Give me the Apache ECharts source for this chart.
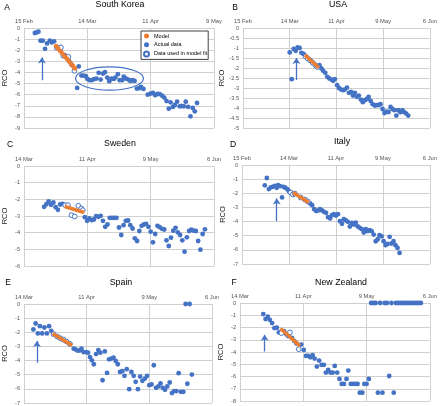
<!DOCTYPE html>
<html><head><meta charset="utf-8">
<script src="https://cdn.jsdelivr.net/npm/echarts/dist/echarts.min.js"></script>
<style>html,body{margin:0;padding:0;background:#fff}#c{width:440px;height:406px}</style>
</head><body><div id="c"></div>
<script>
// ---------- tick labels ----------
const ticksFebToMay = ['15 Feb', '14 Mar', '11 Apr', '9 May'];
const ticksFebToJun = ['15 Feb', '14 Mar', '11 Apr', '9 May', '6 Jun'];
const ticksMarToJun = ['14 Mar', '11 Apr', '9 May', '6 Jun'];

// ---------- A: South Korea (day 0 = 15 Feb) ----------
const koreaActual = [[4.8,-0.45],[5.6,-0.4],[6.4,-0.33],[7.3,-1.14],[8.3,-1.14],[9.3,-1.87],[10.2,-1.39],[11.4,-1.14],[12.3,-1.3],[13.3,-1.2],
 [15,-1.8],[16,-2.0],[18,-2.45],[19,-2.7],[20,-3.0],[21,-3.3],[23.5,-5.39],[24.2,-3.46],
 [25.4,-4.28],[26.4,-4.28],[27.3,-4.34],[28,-4.58],[29,-4.7],[30,-4.7],[31,-4.6],[32,-4.55],[33,-4.03],[33.9,-4.64],[34.9,-4.1],[35.8,-3.98],
 [36.8,-4.46],[37.7,-4.79],[38.7,-4.55],[39.7,-4.58],[40.4,-4.46],[41.5,-4.16],[42.3,-4.7],[43.4,-4.7],[44.1,-4.37],[45.1,-4.55],[46.1,-4.64],
 [47,-4.76],[48,-4.7],[48.9,-4.76],[49.9,-5.45],[51,-5.42],[51.7,-5.3],[52.8,-5.48],[54.7,-6.0],[56,-5.9],[57,-5.84],[58,-6.05],[59,-5.93],
 [60,-5.96],[61,-6.08],[62,-6.26],[63,-6.57],[64,-7.26],[64.8,-6.69],[65.8,-7.1],[66.7,-6.93],[67.7,-6.63],[68.8,-7.05],[69.6,-7.02],
 [70.7,-7.05],[71.5,-6.63],[72.6,-7.1],[73.6,-7.95],[74.6,-7.2],[75.5,-7.5],[76.5,-6.75]];
const koreaFit = [[14.5,-1.78],[16.3,-1.75],[17.4,-2.5],[19.6,-2.6],[22.3,-3.85]];
const koreaModel = [[14.2,-1.63],[15.1,-1.85],[16.1,-2.1],[17,-2.3],[18,-2.55],[18.9,-2.75],[19.8,-2.98],[20.7,-3.2],[21.6,-3.42],[22.5,-3.64]];
const koreaArrow = [[7.9,-4.7],[7.9,-2.65]];
const koreaEllipse = [[37.8,-4.55,15,1.05]];

// ---------- B: USA (day 0 = 15 Feb) ----------
const usaActual = [[28,-1.22],[29.2,-2.56],[30.4,-1.05],[31.6,-1.14],[32.7,-0.97],[33.9,-1.0],[35,-1.24],[36.3,-1.3],
 [45.8,-1.86],[47,-2.02],[48,-2.14],[49.3,-2.24],[50.5,-2.44],[51.7,-2.52],[52.9,-2.58],[54,-2.64],[55,-2.56],[56.4,-2.86],[57.6,-3.01],
 [58.8,-3.08],[60,-3.11],[61,-3.08],[62.3,-2.98],[63.5,-3.24],[64.7,-3.19],[65.9,-3.38],[67,-3.24],[68.2,-3.44],[69.4,-3.38],[70.6,-3.58],
 [71.8,-3.71],[73,-3.61],[74.2,-3.55],[75.3,-3.44],[76.5,-3.65],[77.7,-3.81],[78.9,-3.88],[80,-3.86],[81.3,-3.85],[82.4,-3.81],[83.6,-4.05],
 [84.8,-4.25],[86,-4.18],[87.2,-4.2],[88.4,-3.95],[89.5,-4.05],[90.7,-4.11],[91.9,-4.38],[93,-4.11],[94.3,-4.21],[95.5,-4.11],[96.6,-4.21],
 [97.8,-4.28],[99,-4.38]];
const usaFit = [[37.5,-1.42],[38.7,-1.52],[40.3,-1.62],[41.8,-1.74],[43.4,-1.86],[44.6,-1.95]];
const usaModel = [[37.1,-1.35],[45.4,-1.99]];
const usaArrow = [[32,-2.6],[32,-1.5]];

// ---------- C: Sweden (day 0 = 14 Mar) ----------
const swedenActual = [[8.9,-2.45],[9.9,-2.29],[10.9,-2.13],[12,-2.33],[13,-2.19],[14,-2.47],[15,-2.63],[16,-2.31],[17,-2.27],
 [26.9,-3.07],[27.9,-3.29],[28.9,-3.15],[29.9,-3.25],[30.9,-3.21],[31.9,-3.01],[32.9,-3.05],[33.9,-2.99],[34.9,-3.29],[35.9,-3.65],
 [36.9,-3.51],[37.9,-3.11],[38.9,-3.11],[39.9,-3.11],[40.9,-3.11],[42,-3.69],[43,-4.14],[44,-3.55],[45,-3.29],[46,-3.27],[47,-3.55],
 [48,-3.75],[49,-4.34],[50,-4.5],[51,-3.9],[52,-3.59],[53,-3.51],[54,-3.47],[55,-3.65],[56,-3.94],[57,-4.58],[58,-4.08],[59,-3.59],
 [60,-3.67],[61,-3.77],[62,-3.81],[63,-4.46],[64,-4.8],[65,-4.3],[66,-3.88],[67,-3.71],[68,-3.98],[69,-4.14],[70,-4.46],[71,-5.14],
 [72,-4.28],[73,-3.9],[74,-3.82],[75,-3.88],[76,-3.9],[77,-4.5],[78,-5.02],[79,-4.08],[80,-3.8]];
const swedenFit = [[18.2,-2.35],[19.4,-2.35],[21,-2.95],[22.4,-3.03],[24,-2.39],[25.3,-2.55],[26,-2.65]];
const swedenModel = [[18,-2.43],[26.6,-2.79]];

// ---------- D: Italy (day 0 = 15 Feb) ----------
const italyActual = [[13.6,-1.44],[14.8,-0.92],[16,-1.7],[17.2,-1.58],[18.3,-1.54],[19.5,-1.47],[20.7,-1.61],[21.5,-1.42],[22.7,-1.49],
 [23.9,-2.29],[24.7,-1.54],[25.8,-1.61],[27,-1.7],[28,-1.85],[40.6,-2.72],[41.8,-2.84],[43,-3.12],[44.2,-3.26],[45.4,-3.21],[46.5,-3.12],
 [47.7,-3.21],[48.9,-3.31],[50.1,-3.38],[51.3,-3.69],[52.5,-3.78],[53.6,-3.55],[54.8,-3.48],[56,-3.57],[57.2,-3.48],[58.4,-3.97],
 [59.6,-4.16],[60.7,-3.83],[61.9,-3.92],[63.1,-4.02],[64.3,-4.35],[65.5,-4.09],[66.7,-4.21],[67.8,-4.07],[69,-4.35],[70.2,-4.44],
 [71.4,-4.54],[72.6,-4.78],[73.8,-4.54],[74.9,-4.68],[76.1,-4.61],[77.3,-4.68],[78.5,-4.92],[79.7,-5.39],[80.9,-5.25],[82,-4.96],
 [83.2,-5.04],[84.4,-5.39],[85.6,-5.67],[86.8,-5.58],[88,-5.08],[89.1,-5.55],[90.3,-5.39],[91.5,-5.67],[92.7,-5.86],[93.9,-6.22]];
const italyFit = [[29,-1.95],[30.3,-2.08],[31.5,-2.02],[35,-2.3],[37.5,-2.45],[39.2,-2.58]];
const italyModel = [[30.4,-1.94],[39.8,-2.65]];
const italyArrow = [[20.7,-3.97],[20.7,-2.36]];

// ---------- E: Spain (day 0 = 14 Mar) ----------
const spainActual = [[4.2,-1.8],[5.2,-1.38],[6.2,-2.08],[7.1,-1.57],[8.1,-2.08],[9.1,-1.66],[10.2,-2.08],[11.2,-1.57],[12.2,-1.9],
 [22.2,-3.16],[23,-3.21],[24,-3.3],[25,-3.28],[25.7,-3.16],[26.6,-3.4],[27.6,-3.4],[28.6,-3.44],[29.5,-3.75],[30.3,-3.98],[31.2,-4.26],
 [32.2,-3.54],[33.2,-3.26],[34.1,-3.44],[35.1,-5.39],[36.1,-3.35],[37.1,-4.87],[38,-3.91],[39,-3.86],[40,-3.79],[41,-4.03],[41.9,-4.26],
 [42.9,-4.8],[43.9,-4.75],[44.9,-5.08],[45.9,-4.61],[47,-6.02],[48,-4.8],[49,-5.08],[49.9,-5.5],[50.9,-6.02],[51.9,-5.13],[52.9,-5.43],
 [54,-5.27],[55,-5.08],[56,-5.74],[57,-5.69],[58,-4.33],[59,-5.93],[60,-5.83],[61,-5.62],[62,-5.93],[63,-6.07],[64,-5.83],[65.1,-5.55],
 [66.1,-6.3],[67.1,-6.16],[68.1,-6.16],[69.1,-4.89],[70.1,-6.21],[71.2,-6.21],[72.2,0],[73,-5.64],[74,0],[75,-4.99]];
const spainFit = [[13.2,-2.13],[14.8,-2.3],[16.2,-2.42],[17.6,-2.52],[19,-2.65],[20.5,-2.82]];
const spainModel = [[12.8,-2.08],[21.5,-2.93]];
const spainArrow = [[5.8,-4.15],[5.8,-2.62]];

// ---------- F: New Zealand (day 0 = 14 Mar) ----------
const nzActual = [[10.3,-0.9],[11.3,-1.31],[12.3,-1.12],[13.2,-1.37],[14.2,-1.64],[15.2,-2.05],[16.3,-2.02],[17.2,-2.4],
 [19.5,-2.3],[20.5,-2.55],[21.3,-2.7],[23,-2.85],[24,-3.1],[25,-3.3],
 [27.1,-3.39],[28.2,-3.83],[29.2,-4.32],[30.1,-4.32],[31.1,-4.43],[32.1,-4.26],[33,-4.54],[34,-5.19],[35,-4.7],[36.1,-5.05],[37.1,-5.05],
 [38,-5.68],[39,-5.46],[40,-5.68],[41,-5.68],[41.9,-5.14],[43,-5.68],[44,-6.2],[45,-6.61],[46,-6.61],[47.1,-6.2],[47.9,-5.52],[49,-6.61],
 [50,-6.61],[51,-6.61],[52,-6.61],[53,-7.32],[54.1,-7.32],[55,-6.61],[56,-6.61],[57,-6.2],[58,0],[59,0],[60,0],[61,-7.32],[62,0],
 [63,-7.32],[64,0],[65,0],[66,-5.96],[67,0],[68,-7.32],[69,0],[70,0],[71,0],[72,0],[73,0],[74,0],[75,0],[76,0],[77,0],[78,0],[79,0],[80,0]];
const nzFit = [[18.3,-2.45],[22.1,-2.4],[26,-3.77]];
const nzModel = [[17.9,-2.08],[26.5,-3.5]];
const nzArrow = [[10.9,-3.96],[10.9,-2.6]];

// ---------- colours ----------
const BLUE = '#4472C4', ORANGE = '#ED7D31', GRID = '#d0d0d0', LABEL = '#555555';
const FONT = 'Liberation Sans, Arial, sans-serif';

const panels = [
  {key:'A', title:'South Korea', grid:{left:22, top:28, width:192, height:100}, xMax:84, ticks:ticksFebToMay, yMin:-9, yInt:1,
   actual:koreaActual, fit:koreaFit, model:koreaModel, dots:true, arrow:koreaArrow, letterPos:[7,8], titlePos:[120,5]},
  {key:'B', title:'USA', grid:{left:243, top:28, width:189, height:100}, xMax:112, ticks:ticksFebToJun, yMin:-5, yInt:0.5,
   actual:usaActual, fit:usaFit, model:usaModel, arrow:usaArrow, letterPos:[235,8], titlePos:[338,5]},
  {key:'C', title:'Sweden', grid:{left:19, top:166, width:195, height:100}, xMax:84, ticks:ticksMarToJun, yMin:-6, yInt:1,
   actual:swedenActual, fit:swedenFit, model:swedenModel, arrow:null, letterPos:[10,145], titlePos:[120,144]},
  {key:'D', title:'Italy', grid:{left:242, top:165, width:190, height:99}, xMax:112, ticks:ticksFebToJun, yMin:-7, yInt:1,
   actual:italyActual, fit:italyFit, model:italyModel, arrow:italyArrow, letterPos:[233,145], titlePos:[342,142]},
  {key:'E', title:'Spain', grid:{left:19, top:304, width:193, height:100}, xMax:84, ticks:ticksMarToJun, yMin:-7, yInt:1,
   actual:spainActual, fit:spainFit, model:spainModel, arrow:spainArrow, letterPos:[8,283], titlePos:[121,283]},
  {key:'F', title:'New Zealand', grid:{left:240, top:303, width:191, height:98}, xMax:84, ticks:ticksMarToJun, yMin:-8, yInt:1,
   actual:nzActual, fit:nzFit, model:nzModel, arrow:nzArrow, letterPos:[234,283], titlePos:[341,283]}
];

const grids = [], xAxes = [], yAxes = [], series = [], graphics = [];
panels.forEach((p, i) => {
  grids.push(p.grid);
  const ticks = p.ticks;
  xAxes.push({type:'value', gridIndex:i, position:'top', min:0, max:p.xMax, interval:28,
    axisLine:{show:false}, axisTick:{show:false},
    axisLabel:{fontSize:5.8, color:LABEL, fontFamily:FONT, margin:4, showMinLabel:true, showMaxLabel:true,
      formatter:(v)=>ticks[Math.round(v/28)] || ''},
    splitLine:{show:true, lineStyle:{color:GRID, width:1}}});
  yAxes.push({type:'value', gridIndex:i, min:p.yMin, max:0, interval:p.yInt,
    axisLine:{show:false}, axisTick:{show:false},
    axisLabel:{fontSize:5.6, color:LABEL, fontFamily:FONT, margin:4},
    splitLine:{show:true, lineStyle:{color:GRID, width:1}},
    name:'RCO', nameLocation:'middle', nameRotate:90, nameGap:15,
    nameTextStyle:{fontSize:7.5, color:'#222', fontFamily:FONT}});
  const first = i === 0;
  const act = {type:'scatter', name: first ? 'Actual data' : 'actual'+p.key, xAxisIndex:i, yAxisIndex:i,
    data:p.actual, symbolSize:4.8, itemStyle:{color:BLUE, opacity:1}, z:2, silent:true};
  if (p.arrow) {
    act.markLine = {silent:true, symbol:['none','arrow'], symbolSize:6, animation:false,
      lineStyle:{color:BLUE, width:1.3, type:'solid', opacity:1}, label:{show:false},
      data:[[{coord:p.arrow[0]},{coord:p.arrow[1]}]]};
  }
  series.push(act);
  series.push({type:'scatter', name: first ? 'Data used in model fit' : 'fit'+p.key, xAxisIndex:i, yAxisIndex:i,
    data:p.fit, symbolSize:4.8, itemStyle:{color:'#ffffff', borderColor:BLUE, borderWidth:1, opacity:1}, z:3, silent:true});
  if (p.dots) {
    series.push({type:'scatter', name:'Model', xAxisIndex:i, yAxisIndex:i,
      data:p.model, symbolSize:4.8, itemStyle:{color:ORANGE, opacity:1}, z:4, silent:true});
  } else {
    series.push({type:'line', name:'model'+p.key, xAxisIndex:i, yAxisIndex:i, data:p.model,
      showSymbol:false, symbol:'none', lineStyle:{color:ORANGE, width:3.6}, z:4, silent:true});
  }
  graphics.push({type:'text', x:p.letterPos[0], y:p.letterPos[1],
    style:{text:p.key, font:'8.5px '+FONT, fill:'#000', align:'center', verticalAlign:'middle', textAlign:'center', textVerticalAlign:'middle'}});
  graphics.push({type:'text', x:p.titlePos[0], y:p.titlePos[1],
    style:{text:p.title, font:'8.8px '+FONT, fill:'#000', align:'center', verticalAlign:'middle', textAlign:'center', textVerticalAlign:'middle'}});
});

// ellipse around the South Korea plateau
series.push({type:'custom', name:'ellipse', xAxisIndex:0, yAxisIndex:0, data:koreaEllipse, silent:true, z:5,
  encode:{x:0, y:1},
  renderItem:(params, api) => {
    const c = api.coord([api.value(0), api.value(1)]);
    const s = api.size([api.value(2), api.value(3)]);
    return {type:'ellipse', shape:{cx:c[0], cy:c[1], rx:s[0], ry:s[1]},
      style:{fill:'none', stroke:BLUE, lineWidth:1.2}};
  }});

const chart = echarts.init(document.getElementById('c'), null, {renderer:'canvas'});
chart.setOption({
  animation:false,
  backgroundColor:'#fff',
  textStyle:{fontFamily:FONT},
  grid:grids, xAxis:xAxes, yAxis:yAxes, series:series, graphic:graphics,
  legend:{data:['Model','Actual data','Data used in model fit'], selectedMode:false, orient:'vertical',
    left:141, top:31, padding:[2,1,2,2], itemGap:2.7, itemWidth:5, itemHeight:5,
    borderColor:'#404040', borderWidth:1, backgroundColor:'#fff',
    textStyle:{fontSize:5.5, color:'#000', lineHeight:6, fontFamily:FONT}}
});
</script></body></html>
